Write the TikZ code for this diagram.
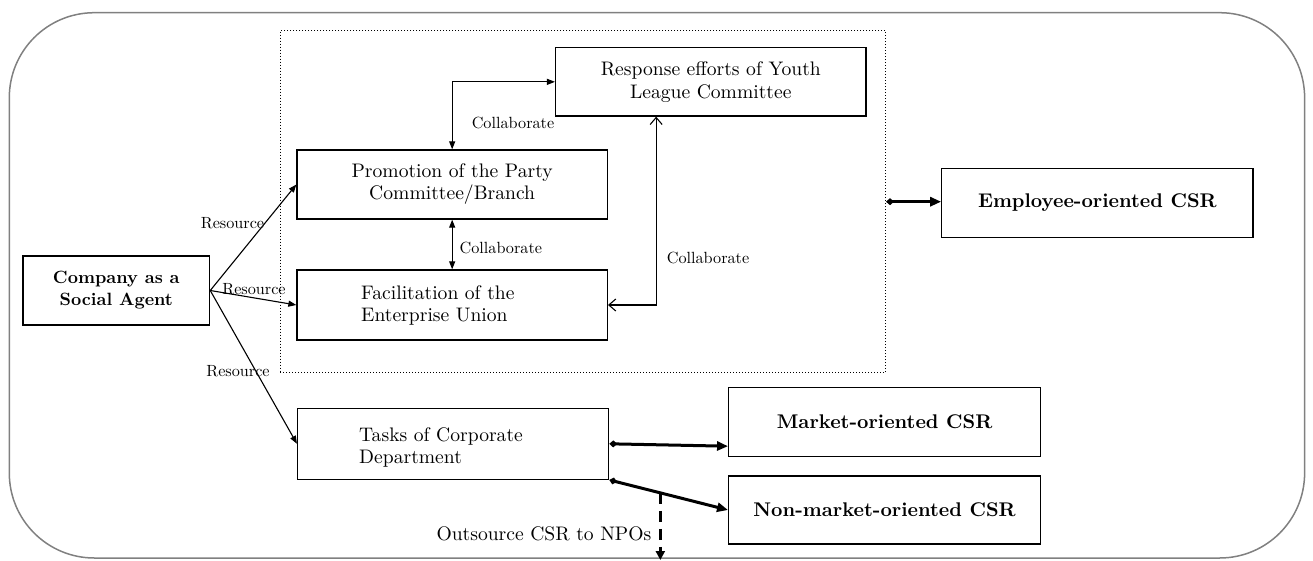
\documentclass[tikz,border=0pt]{standalone}
\usepackage{fontspec}
\setmainfont{lmroman10}[Extension=.otf, UprightFont=*-regular, BoldFont=*-bold,
  ItalicFont=*-italic, BoldItalicFont=*-bolditalic]
\usetikzlibrary{arrows.meta,calc}
\newcommand\bodytext{\fontsize{19.6}{22}\selectfont}
\newcommand\labeltext{\fontsize{16.2}{18}\selectfont}
\newcommand\headtext{\fontsize{19.8}{22}\selectfont\bfseries}
\newcommand\agenttext{\fontsize{17.8}{22}\selectfont\bfseries}
\begin{document}
\begin{tikzpicture}[x=1pt,y=-1pt,
  box/.style={draw, line width=1.3pt, inner sep=0pt, align=center, font=\bodytext},
  plain/.style={inner sep=0pt, align=left, font=\bodytext},
  lbl/.style={inner sep=0pt, font=\labeltext},
  flow/.style={line width=1.1pt, -{Triangle[length=8pt,width=6pt]}},
  both/.style={line width=1.1pt, {Triangle[length=8pt,width=6pt]}-{Triangle[length=8pt,width=6pt]}},
  barbs/.style={line width=1.1pt, {Straight Barb[length=7pt,width=12pt]}-{Straight Barb[length=7pt,width=12pt]}},
  heavy/.style={line width=3pt, {Diamond[length=8pt,width=7pt]}-{Triangle[length=11pt,width=9pt]}},
]
\useasboundingbox (0,0) rectangle (1313,561);

% outer frame
\draw[line width=1.5pt, black!50, rounded corners=85pt] (9.3,12.7) rectangle (1304.6,558);

% grouped organisations
\node[draw, dotted, line width=1pt, inner sep=0pt, minimum width=605.5pt, minimum height=342pt] (grp) at (582.75,201.7) {};

\node[box, minimum width=310.4pt, minimum height=68.3pt] (youth) at (710.8,81.85)
  {\raisebox{1pt}{Response efforts of Youth}\\League Committee};
\node[box, minimum width=310.3pt, minimum height=69pt] (promo) at (452.15,184.5)
  {Promotion of the Party\\Committee/Branch};
\node[box, minimum width=310.3pt, minimum height=70pt] (fac) at (452.15,305) {};
\node[plain, anchor=west] (facT) at (361,305) {Facilitation of the\\Enterprise Union};

\node[box, font=\agenttext, minimum width=186.6pt, minimum height=69pt] (agent) at (116.3,290.5)
  {Company as a\\Social Agent};

\node[box, minimum width=311pt, minimum height=71pt] (tasks) at (453.1,443.8) {};
\node[plain, anchor=west] (tasksT) at (359,447) {Tasks of Corporate\\Department};

\node[box, font=\headtext, minimum width=311.2pt, minimum height=69.4pt] (emp) at (1097.4,203)
  {\raisebox{-5pt}{Employee-oriented CSR}};
\node[box, font=\headtext, minimum width=311.8pt, minimum height=69pt] (mkt) at (884.6,422.2)
  {\raisebox{-6pt}{Market-oriented CSR}};
\node[box, font=\headtext, minimum width=311.8pt, minimum height=68pt] (nmkt) at (884.6,510)
  {\raisebox{-4pt}{Non-market-oriented CSR}};

% collaboration links
\draw[both] (promo.north) |- (youth.west);
\node[lbl] (c1) at (513,122.7) {Collaborate};
\draw[both] (promo.south) -- (fac.north);
\node[lbl] (c2) at (500.8,247.7) {Collaborate};
\coordinate (ybot) at ([xshift=101.2pt]youth.south west);
\draw[barbs] (fac.east) -| (ybot);
\node[lbl] (c3) at (708,257.7) {Collaborate};

% resources from the company
\draw[flow] (agent.east) -- (promo.west);
\node[lbl] (r1) at (232.5,222.7) {Resource};
\draw[flow] (agent.east) -- (fac.west);
\node[lbl] (r2) at (254,289) {Resource};
\draw[flow] (agent.east) -- (tasks.west);
\node[lbl] (r3) at (238,371) {Resource};

% CSR outcomes
\draw[heavy] (grp.east) -- (grp.east -| emp.west);
\draw[heavy] (tasks.east) -- ([yshift=-24pt]mkt.west);
\draw[heavy] (tasks.south east) -- (nmkt.west);

% outsourcing
\coordinate (npo) at ($(tasks.south east)!0.43!(nmkt.west)$);
\coordinate (npoEnd) at (npo |- 0,560);
\draw[line width=3pt, dash pattern=on 11pt off 7pt, -{Triangle[length=9pt,width=9pt]}] (npo) -- (npoEnd);
\node[inner sep=0pt, font=\bodytext, anchor=base east] (out) at (651.5,540) {Outsource CSR to NPOs};
\end{tikzpicture}
\end{document}
